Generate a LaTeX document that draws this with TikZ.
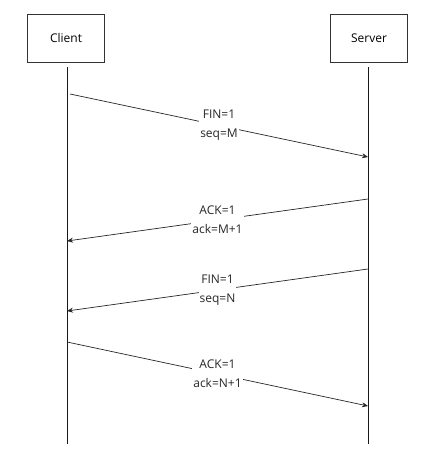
\documentclass[tikz,border=0pt]{standalone}
\usepackage{fontspec}
\setmainfont{Open Sans}
\usetikzlibrary{arrows.meta}
\begin{document}
\begin{tikzpicture}[x=1pt,y=-1pt,
  actor/.style={draw=black!80,line width=0.7pt,minimum width=77pt,minimum height=48pt,inner sep=0pt,font=\fontsize{12}{14}\selectfont},
  lifeline/.style={line width=0.8pt,black!90},
  msg/.style={line width=0.7pt,black!85,-{Stealth[length=6pt,width=5pt]}},
  lbl/.style={fill=white,align=center,inner sep=1pt,font=\fontsize{12}{19}\selectfont,text=black!85}]
\useasboundingbox (0,0) rectangle (433,470);
\node[actor] (client) at (66,38) {Client};
\node[actor] (server) at (369,38) {Server};
\coordinate (ct) at (67,67);
\coordinate (cb) at (67,444);
\coordinate (st) at (368,67);
\coordinate (sb) at (368,444);
\draw[lifeline] (ct) -- (cb);
\draw[lifeline] (st) -- (sb);
\coordinate (a1s) at (70,94);
\coordinate (a1e) at (368,157);
\coordinate (a2s) at (368,199);
\coordinate (a2e) at (67,241);
\coordinate (a3s) at (368,269);
\coordinate (a3e) at (67,311);
\coordinate (a4s) at (67,342);
\coordinate (a4e) at (368,406);
\draw[msg] (a1s) -- node[lbl] (l1) {FIN=1\\seq=M} (a1e);
\draw[msg] (a2s) -- node[lbl] (l2) {ACK=1\\ack=M+1} (a2e);
\draw[msg] (a3s) -- node[lbl] (l3) {FIN=1\\seq=N} (a3e);
\draw[msg] (a4s) -- node[lbl] (l4) {ACK=1\\ack=N+1} (a4e);
\end{tikzpicture}
\end{document}
